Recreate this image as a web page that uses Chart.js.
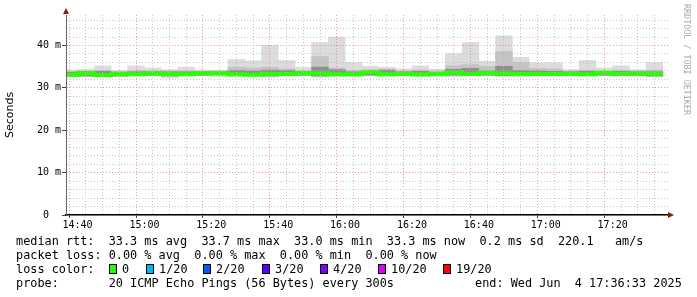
<!DOCTYPE html>
<html>
<head>
<meta charset="utf-8">
<script src="https://cdn.jsdelivr.net/npm/chart.js@4.4.1/dist/chart.umd.min.js"></script>
<style>
  body { margin: 0; background: #fff; }
  #wrap { position: relative; width: 697px; height: 297px; overflow: hidden; }
  canvas { position: absolute; left: 0; top: 0; }
  .txt { position: absolute; font: 11.85px "DejaVu Sans Mono", monospace; color: #000; white-space: pre; line-height: 14px; }
  .box { position: absolute; width: 8px; height: 10px; border: 1px solid #000; box-sizing: border-box; }
  #credit { position: absolute; left: 682px; top: 4px; writing-mode: vertical-rl; font: 8.4px "DejaVu Sans Mono", monospace; color: #aaa; white-space: pre; }
</style>
</head>
<body>
<div id="wrap">
  <canvas id="smokeChart" width="697" height="297"></canvas>
  <div id="credit">RRDTOOL / TOBI OETIKER</div>
  <div id="legend"></div>
</div>
<script>
// 5 minute slots (start times), one smoke column each
const slotStart = ['14:35', '14:40', '14:45', '14:50', '14:55', '15:00', '15:05', '15:10', '15:15',
  '15:20', '15:25', '15:30', '15:35', '15:40', '15:45', '15:50', '15:55', '16:00', '16:05', '16:10',
  '16:15', '16:20', '16:25', '16:30', '16:35', '16:40', '16:45', '16:50', '16:55', '17:00', '17:05',
  '17:10', '17:15', '17:20', '17:25', '17:30'];

// rtt values in ms
const smokeMax = [34.2, 34.4, 35.2, 34.1, 35.2, 34.7, 34.3, 34.9, 34.2, 34.2, 36.7, 36.4, 40.0, 36.5,
  34.85, 40.7, 42.0, 36.0, 35.1, 34.85, 34.5, 35.2, 34.4, 38.1, 40.7, 36.3, 42.3, 37.2, 35.9, 35.9,
  34.3, 36.5, 34.7, 35.2, 34.3, 36.0];
const smokeMidHi = [33.9, 34.0, 34.1, 33.9, 34.1, 34.0, 34.0, 34.0, 33.9, 33.9, 34.9, 34.7, 34.9, 34.5,
  34.1, 37.4, 34.7, 34.1, 34.3, 34.4, 34.0, 34.2, 34.0, 35.25, 35.5, 35.1, 38.6, 36.0, 34.6, 34.5,
  34.0, 34.2, 34.0, 34.2, 34.0, 34.2];
const smokeInnerHi = [33.7, 33.8, 33.9, 33.7, 33.8, 33.8, 33.8, 33.8, 33.7, 33.8, 34.1, 34.0, 34.2, 34.1,
  33.8, 34.9, 34.3, 33.8, 33.9, 34.2, 33.8, 33.9, 33.7, 34.4, 34.6, 34.0, 35.1, 34.1, 34.0, 33.9,
  33.8, 33.9, 33.8, 33.9, 33.8, 33.8];
const medianRtt = [33.2, 33.1, 33.45, 33.05, 33.3, 33.2, 33.4, 33.3, 33.2, 33.45, 33.4, 33.2, 33.1, 33.3,
  33.3, 33.45, 33.4, 33.2, 33.2, 33.7, 33.2, 33.3, 33.15, 33.3, 33.6, 33.3, 33.5, 33.4, 33.3, 33.3,
  33.3, 33.3, 33.2, 33.6, 33.35, 33.35];
const smokeInnerLo = [32.8, 32.8, 33.0, 32.8, 33.0, 33.0, 32.8, 33.0, 33.0, 33.1, 33.0, 33.0, 32.8, 33.0,
  33.0, 32.8, 32.9, 32.9, 33.0, 33.0, 33.0, 33.0, 32.9, 33.0, 33.1, 33.0, 32.9, 32.9, 33.0, 33.0,
  33.0, 33.0, 33.0, 33.0, 33.0, 32.8];
const smokeMin = [32.6, 32.6, 32.7, 32.6, 32.8, 32.9, 32.3, 32.8, 32.9, 32.7, 32.6, 32.8, 32.5, 32.8,
  32.9, 32.5, 32.6, 32.7, 32.8, 32.75, 32.9, 32.8, 32.6, 32.6, 32.9, 32.8, 32.7, 32.6, 32.8, 32.8,
  32.9, 32.8, 32.9, 32.8, 32.9, 32.6];

const timeLabels = ['14:40', '15:00', '15:20', '15:40', '16:00', '16:20', '16:40', '17:00', '17:20'];
const yTickLabels = ['0  ', '10 m', '20 m', '30 m', '40 m'];
const viewStart = '14:36:33';
const viewEnd = '17:36:33';
const slotLength = 5;
const yMax = 47.2;
const yMinorStep = 2;

const lossLabels = ['0', '1/20', '2/20', '3/20', '4/20', '10/20', '19/20'];
const lossColors = ['#26ff00', '#00b8ff', '#0059ff', '#5e00ff', '#7e00ff', '#dd00ff', '#ff0000'];

const toMin = s => { const p = s.split(':').map(Number); return p[0] * 60 + p[1] + (p[2] || 0) / 60; };
const fmt = m => String(Math.floor(m / 60)).padStart(2, '0') + ':' + String(Math.round(m % 60)).padStart(2, '0');

const xMin = toMin(viewStart);
const xMax = toMin(viewEnd);
const slotMin = slotStart.map(toMin);
const last = slotMin.length - 1;

const band = (lo, hi) => slotMin.map((m, i) => ({ x: m + slotLength / 2, y: [lo[i], hi[i]] }));
const medianPts = slotMin.map((m, i) => ({ x: m, y: medianRtt[i] }));
medianPts.push({ x: slotMin[last] + slotLength, y: medianRtt[last] });

const xTicks = slotMin.filter(m => m >= xMin).concat([slotMin[last] + slotLength]);
const yTicks = [];
for (let v = 0; v < yMax; v += yMinorStep) yTicks.push(v);

const barOpts = { type: 'bar', grouped: false, barPercentage: 1, categoryPercentage: 1, borderWidth: 0 };

const arrows = {
  id: 'arrows',
  afterDraw(chart) {
    const { ctx, chartArea: a } = chart;
    ctx.save();
    ctx.fillStyle = '#8b1a1a';
    ctx.beginPath();
    ctx.moveTo(a.left - 3, a.top - 1); ctx.lineTo(a.left + 3, a.top - 1); ctx.lineTo(a.left, a.top - 7);
    ctx.fill();
    ctx.beginPath();
    ctx.moveTo(a.right, a.bottom - 3); ctx.lineTo(a.right, a.bottom + 3); ctx.lineTo(a.right + 6, a.bottom);
    ctx.fill();
    ctx.restore();
  }
};

new Chart(document.getElementById('smokeChart').getContext('2d'), {
  type: 'bar',
  data: {
    datasets: [
      { type: 'line', data: medianPts, stepped: 'after', borderColor: lossColors[0], borderWidth: 4,
        pointRadius: 0, fill: false, order: 0 },
      Object.assign({ data: band(smokeInnerLo, smokeInnerHi), backgroundColor: '#8e8e8e', order: 1 }, barOpts),
      Object.assign({ data: band(smokeInnerLo, smokeMidHi), backgroundColor: '#c4c4c4', order: 2 }, barOpts),
      Object.assign({ data: band(smokeMin, smokeMax), backgroundColor: '#dcdcdc', order: 3 }, barOpts)
    ]
  },
  options: {
    responsive: false,
    animation: false,
    devicePixelRatio: 1,
    layout: { padding: { left: 0, top: 15, right: 29, bottom: 0 } },
    plugins: { legend: { display: false }, tooltip: { enabled: false } },
    scales: {
      x: {
        type: 'linear',
        min: xMin,
        max: xMax,
        offset: false,
        afterBuildTicks: s => { s.ticks = xTicks.map(v => ({ value: v })); },
        afterFit: s => { s.height = 82; },
        ticks: {
          autoSkip: false, maxRotation: 0, padding: 1, color: '#000',
          font: { family: 'DejaVu Sans Mono', size: 10 },
          callback: v => timeLabels.includes(fmt(v)) ? fmt(v) : ''
        },
        grid: {
          z: 1,
          tickLength: 3,
          color: c => c.tick && timeLabels.includes(fmt(c.tick.value)) ? 'rgba(235,120,120,0.75)' : 'rgba(185,185,185,0.8)',
          tickColor: c => c.tick && timeLabels.includes(fmt(c.tick.value)) ? '#444' : 'rgba(0,0,0,0)'
        },
        border: { color: '#000', width: 1.5, dash: [1, 2], z: 2 }
      },
      y: {
        min: 0,
        max: yMax,
        afterBuildTicks: s => { s.ticks = yTicks.map(v => ({ value: v })); },
        afterFit: s => { s.width = 66; },
        title: { display: true, text: 'Seconds', color: '#000', font: { family: 'DejaVu Sans', size: 11 }, padding: { top: 4, bottom: 4 } },
        ticks: {
          autoSkip: false, padding: 1, color: '#000',
          font: { family: 'DejaVu Sans Mono', size: 10 },
          callback: v => v % 10 === 0 ? yTickLabels[v / 10] : ''
        },
        grid: {
          z: 1,
          tickLength: 4,
          color: c => c.tick && c.tick.value % 10 === 0 ? 'rgba(235,120,120,0.75)' : 'rgba(185,185,185,0.8)',
          tickColor: c => c.tick && c.tick.value % 10 === 0 ? '#444' : 'rgba(0,0,0,0)'
        },
        border: { color: '#666', width: 1, dash: [1, 2], z: 2 }
      }
    }
  },
  plugins: [arrows]
});

// text block under the graph
const legend = document.getElementById('legend');
const addText = (text, left, top) => {
  const d = document.createElement('div');
  d.className = 'txt'; d.textContent = text;
  d.style.left = left + 'px'; d.style.top = top + 'px';
  legend.appendChild(d);
};
addText('median rtt:  33.3 ms avg  33.7 ms max  33.0 ms min  33.3 ms now  0.2 ms sd  220.1   am/s', 16, 234);
addText('packet loss: 0.00 % avg  0.00 % max  0.00 % min  0.00 % now', 16, 248);
addText('loss color:', 16, 262);
const boxLeft = [109, 146, 203, 262, 320, 378, 443];
lossLabels.forEach((lab, i) => {
  const b = document.createElement('div');
  b.className = 'box'; b.style.background = lossColors[i];
  b.style.left = boxLeft[i] + 'px'; b.style.top = '264px';
  legend.appendChild(b);
  addText(lab, boxLeft[i] + 13, 262);
});
addText('probe:       20 ICMP Echo Pings (56 Bytes) every 300s', 16, 276);
addText('end: Wed Jun  4 17:36:33 2025', 475, 276);
</script>
</body>
</html>
